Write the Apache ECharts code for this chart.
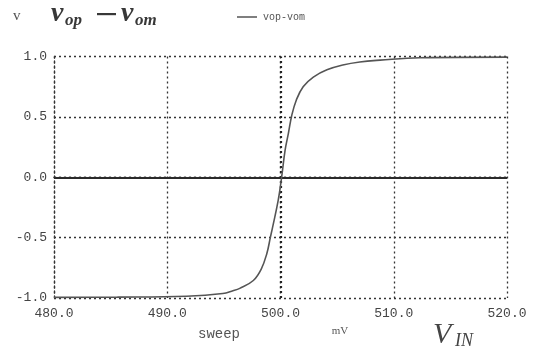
<!DOCTYPE html>
<html>
<head>
<meta charset="utf-8">
<script src="https://cdn.jsdelivr.net/npm/echarts@6/dist/echarts.min.js"></script>
<style>
  html, body { margin: 0; padding: 0; background: #ffffff; }
  #chart { width: 533px; height: 357px; }
</style>
</head>
<body>
<div id="chart"></div>
<script>
// Input sweep (mV) and differential output vop - vom (V)
var sweepMv = [480, 485.6, 491.7, 494.9, 495.8, 496.4, 497.6, 498.3, 498.8, 499.1, 499.3, 499.8,
               500.1, 500.4, 500.7, 501.0, 501.4, 502.0, 502.9, 504.1, 505.5, 507.0, 508.8, 512.3, 520];
var vDiff = [-0.995, -0.993, -0.985, -0.963, -0.94, -0.92, -0.855, -0.76, -0.63, -0.50, -0.415, -0.19,
             0.0, 0.22, 0.365, 0.515, 0.64, 0.75, 0.83, 0.89, 0.93, 0.955, 0.97, 0.99, 0.995];

var xTicks = { min: 480, max: 520, step: 10 };
var yTicks = { min: -1, max: 1, step: 0.5 };
var seriesName = 'vop-vom';

var points = sweepMv.map(function (x, i) { return [x, vDiff[i]]; });

var mono = '"Liberation Mono", "DejaVu Sans Mono", monospace';
var serif = '"Liberation Serif", "DejaVu Serif", serif';
var dotted = { color: '#333', width: 1.3, type: [2, 3] };

var chart = echarts.init(document.getElementById('chart'), null, { renderer: 'canvas' });
chart.setOption({
  animation: false,
  backgroundColor: '#ffffff',
  grid: { left: 54, right: 26, top: 56.5, bottom: 59, containLabel: false },
  xAxis: {
    type: 'value',
    min: xTicks.min, max: xTicks.max, interval: xTicks.step,
    axisLine: { show: true, lineStyle: dotted },
    axisTick: { show: false },
    splitLine: { show: true, lineStyle: dotted },
    axisLabel: {
      margin: 9, color: '#444', fontFamily: mono, fontSize: 13,
      formatter: function (v) { return v.toFixed(1); }
    }
  },
  yAxis: {
    type: 'value',
    min: yTicks.min, max: yTicks.max, interval: yTicks.step,
    axisLine: { show: true, lineStyle: dotted },
    axisTick: { show: false },
    splitLine: { show: true, lineStyle: dotted },
    axisLabel: {
      margin: 7, color: '#444', fontFamily: mono, fontSize: 13,
      formatter: function (v) { return v.toFixed(1); }
    }
  },
  series: [{
    name: seriesName,
    type: 'line',
    data: points,
    showSymbol: false,
    smooth: 0.4,
    lineStyle: { color: '#555', width: 1.6 },
    z: 5,
    markLine: {
      silent: true,
      symbol: 'none',
      label: { show: false },
      data: [
        { yAxis: 0, lineStyle: { color: '#2a2a2a', width: 2, type: 'solid' } },
        { xAxis: 500, lineStyle: { color: '#222', width: 2.2, type: [2, 3] } }
      ]
    }
  }],
  graphic: [
    // axis unit
    { type: 'text', left: 13, top: 9, style: { text: 'v', font: '15px ' + serif, fill: '#555' } },
    // title: v_op − v_om
    { type: 'text', x: 51, y: 14, style: { text: 'v', font: 'italic bold 28px ' + serif, fill: '#383838', verticalAlign: 'middle' } },
    { type: 'text', x: 65, y: 21, style: { text: 'op', font: 'italic bold 17px ' + serif, fill: '#383838', verticalAlign: 'middle' } },
    { type: 'rect', shape: { x: 97, y: 13, width: 19, height: 2.2 }, style: { fill: '#383838' } },
    { type: 'text', x: 121, y: 14, style: { text: 'v', font: 'italic bold 28px ' + serif, fill: '#383838', verticalAlign: 'middle' } },
    { type: 'text', x: 135, y: 21, style: { text: 'om', font: 'italic bold 17px ' + serif, fill: '#383838', verticalAlign: 'middle' } },
    // legend
    { type: 'line', shape: { x1: 237, y1: 17, x2: 257, y2: 17 }, style: { stroke: '#555', lineWidth: 1.5 } },
    { type: 'text', x: 263, y: 17, style: { text: seriesName, font: '10px ' + mono, fill: '#555', verticalAlign: 'middle' } },
    // x axis captions
    { type: 'text', x: 219, y: 334, style: { text: 'sweep', font: '14px ' + mono, fill: '#555', align: 'center', verticalAlign: 'middle' } },
    { type: 'text', x: 340, y: 331, style: { text: 'mV', font: '11px ' + serif, fill: '#555', align: 'center', verticalAlign: 'middle' } },
    { type: 'text', x: 433, y: 335, style: { text: 'V', font: 'italic 30px ' + serif, fill: '#444', verticalAlign: 'middle' } },
    { type: 'text', x: 455, y: 341, style: { text: 'IN', font: 'italic 18px ' + serif, fill: '#444', verticalAlign: 'middle' } }
  ]
});
</script>
</body>
</html>
